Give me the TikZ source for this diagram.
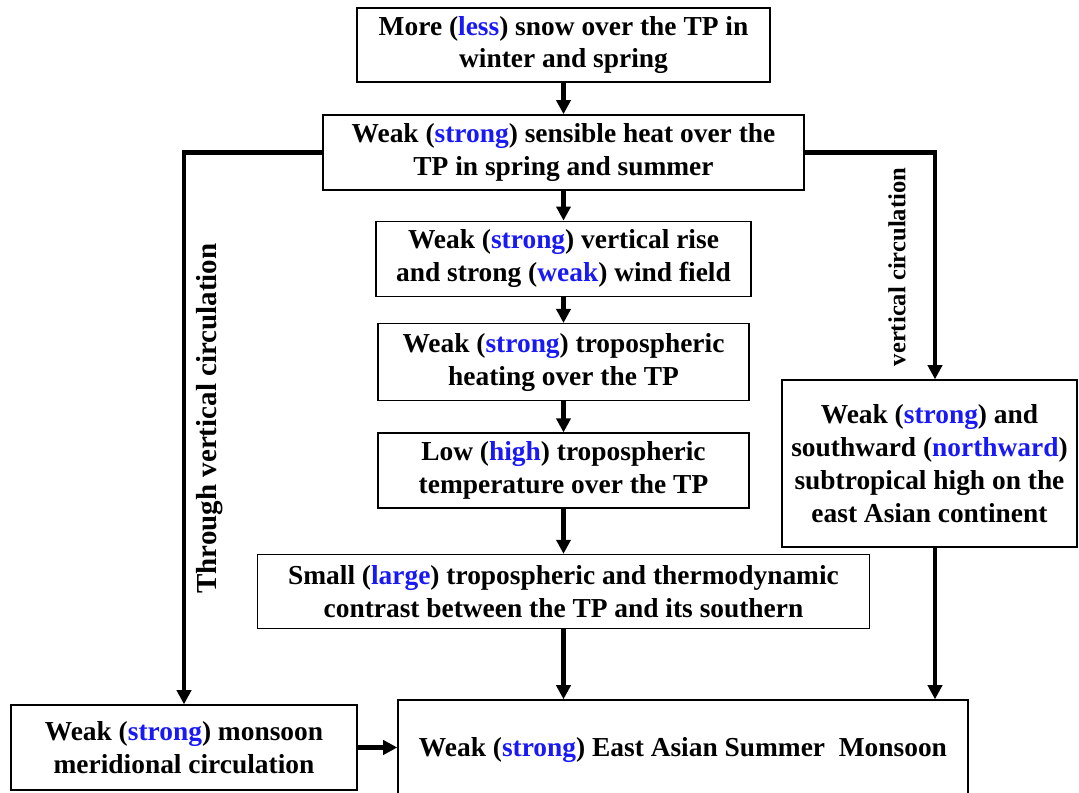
\documentclass[tikz,border=0pt]{standalone}
\usepackage{fontspec}
\setmainfont{Liberation Serif}
\usetikzlibrary{arrows.meta, positioning}
\definecolor{revblue}{RGB}{25,25,245}
\newcommand{\rev}[1]{\textcolor{revblue}{#1}}

\begin{document}
\begin{tikzpicture}[
  node distance=0.6cm,
  every node/.style={font=\bfseries\fontsize{15.6}{18.7}\selectfont},
  box/.style={draw, line width=0.8pt, align=center, inner sep=2pt},
  flow/.style={->, line width=2.5pt},
  >={Triangle[length=8pt,width=8pt]}
]
  \useasboundingbox (0,0) rectangle (21.58,-15.86);

  % Nodes
  \node (snow) [box, minimum width=8.26cm, minimum height=1.48cm] at (11.27,-0.90)
    {More (\rev{less}) snow over the TP in\\winter and spring};
  \node (sens) [box, minimum width=9.62cm, minimum height=1.5cm, below=0.63cm of snow]
    {Weak (\rev{strong}) sensible heat over the\\TP in spring and summer};
  \node (rise) [box, minimum width=7.5cm, minimum height=1.5cm, below=0.6cm of sens]
    {Weak (\rev{strong}) vertical rise\\and strong (\rev{weak}) wind field};
  \node (heat) [box, minimum width=7.42cm, minimum height=1.54cm, below=0.52cm of rise]
    {Weak (\rev{strong}) tropospheric\\heating over the TP};
  \node (temp) [box, minimum width=7.42cm, minimum height=1.5cm, below=0.62cm of heat]
    {Low (\rev{high}) tropospheric\\temperature over the TP};
  \node (contrast) [box, minimum width=12.24cm, minimum height=1.48cm, below=0.9cm of temp]
    {Small (\rev{large}) tropospheric and thermodynamic\\contrast between the TP and its southern};

  % Side boxes
  \node (subhigh) [box, minimum width=5.9cm, minimum height=3.34cm] at (18.59,-9.27)
    {Weak (\rev{strong}) and\\southward (\rev{northward})\\subtropical high on the\\east Asian continent};
  \node (merid) [box, minimum width=6.92cm, minimum height=1.7cm] at (3.68,-14.95)
    {Weak (\rev{strong}) monsoon\\meridional circulation};
  \node (easm) [box, minimum width=11.4cm, minimum height=2.0cm] at (13.66,-15.0)
    {Weak (\rev{strong}) East Asian Summer~~Monsoon};

  % Labels on the side paths
  \node (thru) [rotate=90, font=\bfseries\fontsize{16.5}{19}\selectfont] at (4.2,-8.37)
    {Through vertical circulation};
  \node (vert) [rotate=90, font=\bfseries\fontsize{14}{17}\selectfont] at (17.94,-5.34)
    {vertical circulation};

  % Edges
  \draw [flow] (snow) -- (sens);
  \draw [flow] (sens) -- (rise);
  \draw [flow] (rise) -- (heat);
  \draw [flow] (heat) -- (temp);
  \draw [flow] (temp) -- (contrast);
  \draw [flow] (contrast.south) -- (contrast.south |- easm.north);
  \draw [flow] (sens.west) -| (merid.north);
  \draw [flow] (sens.east) -| ([xshift=0.11cm]subhigh.north);
  \draw [flow] ([xshift=0.11cm]subhigh.south) -- ([xshift=0.11cm]subhigh.south |- easm.north);
  \draw [flow] (merid.east) -- (merid.east -| easm.west);
\end{tikzpicture}
\end{document}
